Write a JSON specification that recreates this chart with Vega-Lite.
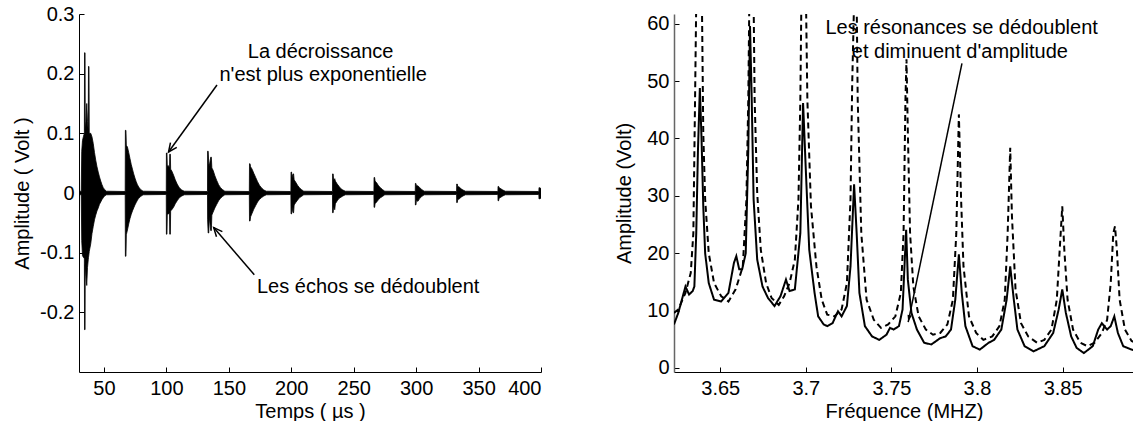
{
  "$schema": "https://vega.github.io/schema/vega-lite/v6.json",
  "background": "white",
  "padding": {"left": 12, "top": 4, "right": 0, "bottom": 0},
  "autosize": {"type": "pad"},
  "spacing": 72,
  "config": {
    "font": "Liberation Sans",
    "view": {"stroke": null},
    "axis": {"grid": false, "domainColor": "#000", "tickColor": "#000", "labelColor": "#000", "titleColor": "#000", "labelFontSize": 20, "titleFontSize": 20, "titleFontWeight": "normal", "labelFont": "Liberation Sans", "titleFont": "Liberation Sans", "tickSize": -5, "labelPadding": 10, "domainWidth": 1, "tickWidth": 1},
    "text": {"font": "Liberation Sans", "fontSize": 20, "color": "#000"}
  },
  "hconcat": [
    {
      "width": 462,
      "height": 358,
      "layer": [
        {
          "data": {"values": [
            {"t": 30.0, "hi": 0.0025, "lo": -0.0025}, {"t": 31.8, "hi": 0.003, "lo": -0.003}, {"t": 32.2, "hi": 0.07, "lo": -0.08}, {"t": 32.8, "hi": 0.088, "lo": -0.105}, {"t": 33.6, "hi": 0.095, "lo": -0.108}, {"t": 34.3, "hi": 0.1, "lo": -0.11}, {"t": 34.45, "hi": 0.235, "lo": -0.229}, {"t": 34.85, "hi": 0.235, "lo": -0.229}, {"t": 35.0, "hi": 0.105, "lo": -0.12}, {"t": 35.6, "hi": 0.12, "lo": -0.14}, {"t": 36.2, "hi": 0.15, "lo": -0.155}, {"t": 36.8, "hi": 0.12, "lo": -0.125}, {"t": 37.4, "hi": 0.105, "lo": -0.112}, {"t": 37.6, "hi": 0.212, "lo": -0.108}, {"t": 38.0, "hi": 0.212, "lo": -0.102}, {"t": 38.2, "hi": 0.1, "lo": -0.098}, {"t": 39.4, "hi": 0.1, "lo": -0.085}, {"t": 40.4, "hi": 0.094, "lo": -0.068}, {"t": 41.4, "hi": 0.083, "lo": -0.056}, {"t": 42.4, "hi": 0.068, "lo": -0.045}, {"t": 43.4, "hi": 0.055, "lo": -0.037}, {"t": 44.4, "hi": 0.044, "lo": -0.03}, {"t": 45.4, "hi": 0.035, "lo": -0.025}, {"t": 46.4, "hi": 0.027, "lo": -0.019}, {"t": 47.4, "hi": 0.02, "lo": -0.015}, {"t": 48.4, "hi": 0.014, "lo": -0.011}, {"t": 49.4, "hi": 0.009, "lo": -0.008}, {"t": 50.4, "hi": 0.006, "lo": -0.005}, {"t": 52.0, "hi": 0.003, "lo": -0.003}, {"t": 66.9, "hi": 0.0025, "lo": -0.0025},
            {"t": 67.0, "hi": 0.003, "lo": -0.003}, {"t": 67.15, "hi": 0.105, "lo": -0.106}, {"t": 67.6, "hi": 0.105, "lo": -0.106}, {"t": 67.9, "hi": 0.08, "lo": -0.07}, {"t": 68.8, "hi": 0.077, "lo": -0.062}, {"t": 69.8, "hi": 0.068, "lo": -0.052}, {"t": 70.8, "hi": 0.058, "lo": -0.043}, {"t": 71.8, "hi": 0.048, "lo": -0.036}, {"t": 72.8, "hi": 0.04, "lo": -0.03}, {"t": 73.8, "hi": 0.032, "lo": -0.025}, {"t": 74.8, "hi": 0.025, "lo": -0.02}, {"t": 75.8, "hi": 0.019, "lo": -0.016}, {"t": 76.8, "hi": 0.014, "lo": -0.012}, {"t": 77.8, "hi": 0.01, "lo": -0.009}, {"t": 79.3, "hi": 0.006, "lo": -0.006}, {"t": 81.3, "hi": 0.003, "lo": -0.003}, {"t": 99.6, "hi": 0.0025, "lo": -0.0025},
            {"t": 99.9, "hi": 0.003, "lo": -0.003}, {"t": 100.0, "hi": 0.067, "lo": -0.069}, {"t": 100.45, "hi": 0.067, "lo": -0.069}, {"t": 100.7, "hi": 0.045, "lo": -0.036}, {"t": 101.5, "hi": 0.046, "lo": -0.035}, {"t": 102.5, "hi": 0.042, "lo": -0.034}, {"t": 102.7, "hi": 0.065, "lo": -0.069}, {"t": 103.15, "hi": 0.065, "lo": -0.069}, {"t": 103.4, "hi": 0.04, "lo": -0.03}, {"t": 104.3, "hi": 0.037, "lo": -0.028}, {"t": 105.7, "hi": 0.03, "lo": -0.024}, {"t": 107.1, "hi": 0.022, "lo": -0.018}, {"t": 108.6, "hi": 0.015, "lo": -0.013}, {"t": 110.3, "hi": 0.009, "lo": -0.008}, {"t": 112.3, "hi": 0.005, "lo": -0.005}, {"t": 114.3, "hi": 0.003, "lo": -0.003}, {"t": 132.6, "hi": 0.0025, "lo": -0.0025},
            {"t": 132.9, "hi": 0.003, "lo": -0.003}, {"t": 133.0, "hi": 0.07, "lo": -0.045}, {"t": 133.45, "hi": 0.07, "lo": -0.067}, {"t": 133.9, "hi": 0.05, "lo": -0.067}, {"t": 134.3, "hi": 0.045, "lo": -0.04}, {"t": 135.5, "hi": 0.06, "lo": -0.063}, {"t": 136.0, "hi": 0.06, "lo": -0.063}, {"t": 136.4, "hi": 0.042, "lo": -0.037}, {"t": 137.4, "hi": 0.038, "lo": -0.032}, {"t": 138.8, "hi": 0.029, "lo": -0.025}, {"t": 140.3, "hi": 0.021, "lo": -0.019}, {"t": 141.8, "hi": 0.014, "lo": -0.013}, {"t": 143.3, "hi": 0.009, "lo": -0.009}, {"t": 144.8, "hi": 0.006, "lo": -0.006}, {"t": 146.8, "hi": 0.003, "lo": -0.003}, {"t": 166.1, "hi": 0.0025, "lo": -0.0025},
            {"t": 166.4, "hi": 0.003, "lo": -0.003}, {"t": 166.55, "hi": 0.049, "lo": -0.047}, {"t": 167.0, "hi": 0.049, "lo": -0.047}, {"t": 167.4, "hi": 0.044, "lo": -0.04}, {"t": 168.6, "hi": 0.04, "lo": -0.034}, {"t": 170.0, "hi": 0.033, "lo": -0.027}, {"t": 171.5, "hi": 0.026, "lo": -0.021}, {"t": 173.0, "hi": 0.019, "lo": -0.015}, {"t": 174.5, "hi": 0.013, "lo": -0.011}, {"t": 176.0, "hi": 0.009, "lo": -0.008}, {"t": 178.0, "hi": 0.005, "lo": -0.005}, {"t": 180.0, "hi": 0.003, "lo": -0.003}, {"t": 199.4, "hi": 0.0025, "lo": -0.0025},
            {"t": 199.7, "hi": 0.003, "lo": -0.003}, {"t": 199.8, "hi": 0.035, "lo": -0.035}, {"t": 200.25, "hi": 0.035, "lo": -0.035}, {"t": 200.6, "hi": 0.026, "lo": -0.024}, {"t": 201.4, "hi": 0.032, "lo": -0.033}, {"t": 201.85, "hi": 0.032, "lo": -0.033}, {"t": 202.3, "hi": 0.022, "lo": -0.02}, {"t": 203.6, "hi": 0.018, "lo": -0.016}, {"t": 205.0, "hi": 0.013, "lo": -0.012}, {"t": 206.5, "hi": 0.009, "lo": -0.008}, {"t": 208.0, "hi": 0.006, "lo": -0.006}, {"t": 210.0, "hi": 0.003, "lo": -0.003}, {"t": 232.8, "hi": 0.0025, "lo": -0.0025},
            {"t": 233.0, "hi": 0.003, "lo": -0.003}, {"t": 233.1, "hi": 0.032, "lo": -0.033}, {"t": 233.55, "hi": 0.032, "lo": -0.033}, {"t": 233.9, "hi": 0.022, "lo": -0.022}, {"t": 234.8, "hi": 0.024, "lo": -0.028}, {"t": 235.3, "hi": 0.02, "lo": -0.018}, {"t": 236.8, "hi": 0.015, "lo": -0.013}, {"t": 238.3, "hi": 0.011, "lo": -0.009}, {"t": 239.8, "hi": 0.007, "lo": -0.007}, {"t": 241.3, "hi": 0.005, "lo": -0.005}, {"t": 243.3, "hi": 0.003, "lo": -0.003}, {"t": 266.0, "hi": 0.0025, "lo": -0.0025},
            {"t": 266.2, "hi": 0.003, "lo": -0.003}, {"t": 266.3, "hi": 0.026, "lo": -0.024}, {"t": 266.75, "hi": 0.026, "lo": -0.024}, {"t": 267.1, "hi": 0.02, "lo": -0.018}, {"t": 268.4, "hi": 0.017, "lo": -0.015}, {"t": 269.9, "hi": 0.012, "lo": -0.011}, {"t": 271.4, "hi": 0.009, "lo": -0.008}, {"t": 272.9, "hi": 0.006, "lo": -0.006}, {"t": 274.9, "hi": 0.003, "lo": -0.003}, {"t": 299.1, "hi": 0.0025, "lo": -0.0025},
            {"t": 299.3, "hi": 0.003, "lo": -0.003}, {"t": 299.4, "hi": 0.016, "lo": -0.02}, {"t": 299.85, "hi": 0.016, "lo": -0.02}, {"t": 300.2, "hi": 0.012, "lo": -0.012}, {"t": 301.4, "hi": 0.012, "lo": -0.014}, {"t": 302.9, "hi": 0.009, "lo": -0.009}, {"t": 304.4, "hi": 0.006, "lo": -0.006}, {"t": 306.4, "hi": 0.003, "lo": -0.003}, {"t": 332.3, "hi": 0.0025, "lo": -0.0025},
            {"t": 332.4, "hi": 0.003, "lo": -0.003}, {"t": 332.5, "hi": 0.015, "lo": -0.016}, {"t": 332.95, "hi": 0.015, "lo": -0.016}, {"t": 333.3, "hi": 0.011, "lo": -0.011}, {"t": 334.5, "hi": 0.01, "lo": -0.01}, {"t": 336.0, "hi": 0.007, "lo": -0.007}, {"t": 337.5, "hi": 0.005, "lo": -0.005}, {"t": 339.5, "hi": 0.003, "lo": -0.003}, {"t": 365.4, "hi": 0.0025, "lo": -0.0025},
            {"t": 365.5, "hi": 0.003, "lo": -0.003}, {"t": 365.6, "hi": 0.011, "lo": -0.013}, {"t": 366.05, "hi": 0.011, "lo": -0.013}, {"t": 366.4, "hi": 0.009, "lo": -0.009}, {"t": 367.9, "hi": 0.007, "lo": -0.007}, {"t": 369.4, "hi": 0.005, "lo": -0.005}, {"t": 371.4, "hi": 0.003, "lo": -0.003}, {"t": 398.0, "hi": 0.0025, "lo": -0.0025},
            {"t": 398.3, "hi": 0.003, "lo": -0.003}, {"t": 398.4, "hi": 0.009, "lo": -0.01}, {"t": 398.85, "hi": 0.009, "lo": -0.01}, {"t": 399.3, "hi": 0.008, "lo": -0.009}, {"t": 400.0, "hi": 0.008, "lo": -0.009}
          ]},
          "mark": {"type": "area", "color": "#000", "stroke": "#000", "strokeWidth": 0.8, "opacity": 1, "clip": true, "interpolate": "linear"},
          "encoding": {
            "x": {"field": "t", "type": "quantitative", "scale": {"domain": [30, 400], "nice": false, "zero": false}, "axis": {"title": "Temps ( µs )", "values": [50, 100, 150, 200, 250, 300, 350, 400], "labelPadding": 11, "titlePadding": 3}},
            "y": {"field": "hi", "type": "quantitative", "scale": {"domain": [-0.3, 0.3], "nice": false}, "axis": {"title": "Amplitude ( Volt )", "values": [-0.2, -0.1, 0, 0.1, 0.2, 0.3], "labelExpr": "replace(format(datum.value, '.1~f'), '−', '-')", "titlePadding": 7}},
            "y2": {"field": "lo"}
          }
        },
        {
          "data": {"values": [
            {"t": 140.5, "hi": 0.181, "t2": 101.7, "lo": 0.0687},
            {"t": 170.4, "hi": -0.137, "t2": 137.9, "lo": -0.058}
          ]},
          "mark": {"type": "rule", "color": "#000", "strokeWidth": 1.5},
          "encoding": {
            "x": {"field": "t", "type": "quantitative"},
            "y": {"field": "hi", "type": "quantitative"},
            "x2": {"field": "t2"},
            "y2": {"field": "lo"}
          }
        },
        {
          "data": {"values": [{"t": 101.7, "hi": 0.0687}]},
          "mark": {"type": "point", "shape": "M-0.45,1L0,0L0.45,1", "filled": false, "stroke": "#000", "strokeWidth": 1.5, "size": 300, "angle": 216, "opacity": 1},
          "encoding": {"x": {"field": "t", "type": "quantitative"}, "y": {"field": "hi", "type": "quantitative"}}
        },
        {
          "data": {"values": [{"t": 137.9, "hi": -0.058}]},
          "mark": {"type": "point", "shape": "M-0.45,1L0,0L0.45,1", "filled": false, "stroke": "#000", "strokeWidth": 1.5, "size": 300, "angle": 319, "opacity": 1},
          "encoding": {"x": {"field": "t", "type": "quantitative"}, "y": {"field": "hi", "type": "quantitative"}}
        },
        {
          "data": {"values": [
            {"t": 223.5, "hi": 0.2368, "label": "La décroissance"},
            {"t": 225.5, "hi": 0.1977, "label": "n'est plus exponentielle"},
            {"t": 261.6, "hi": -0.157, "label": "Les échos se dédoublent"}
          ]},
          "mark": {"type": "text", "align": "center", "baseline": "middle", "fontSize": 20},
          "encoding": {"x": {"field": "t", "type": "quantitative"}, "y": {"field": "hi", "type": "quantitative"}, "text": {"field": "label"}}
        }
      ]
    },
    {
      "width": 460,
      "height": 358,
      "layer": [
        {
          "data": {"values": [
            {"f": 3.623, "a": 7.6, "s": "mesure"}, {"f": 3.6255, "a": 9.6, "s": "mesure"}, {"f": 3.6297, "a": 14.2, "s": "mesure"}, {"f": 3.6318, "a": 12.8, "s": "mesure"}, {"f": 3.6339, "a": 13.4, "s": "mesure"}, {"f": 3.6349, "a": 14.2, "s": "mesure"}, {"f": 3.636, "a": 23.5, "s": "mesure"}, {"f": 3.637, "a": 38, "s": "mesure"}, {"f": 3.6381, "a": 48.8, "s": "mesure"}, {"f": 3.6391, "a": 39.8, "s": "mesure"}, {"f": 3.6401, "a": 28.2, "s": "mesure"}, {"f": 3.6412, "a": 20, "s": "mesure"}, {"f": 3.6433, "a": 14.8, "s": "mesure"}, {"f": 3.6464, "a": 11.9, "s": "mesure"}, {"f": 3.6506, "a": 11.6, "s": "mesure"}, {"f": 3.6548, "a": 13.1, "s": "mesure"}, {"f": 3.658, "a": 18.3, "s": "mesure"}, {"f": 3.6594, "a": 19.5, "s": "mesure"}, {"f": 3.6611, "a": 17.2, "s": "mesure"}, {"f": 3.6628, "a": 17.2, "s": "mesure"}, {"f": 3.6649, "a": 20, "s": "mesure"}, {"f": 3.6664, "a": 38, "s": "mesure"}, {"f": 3.6674, "a": 59.6, "s": "mesure"}, {"f": 3.6684, "a": 46.8, "s": "mesure"}, {"f": 3.6695, "a": 29.4, "s": "mesure"}, {"f": 3.6716, "a": 18.9, "s": "mesure"}, {"f": 3.6747, "a": 14.2, "s": "mesure"}, {"f": 3.6779, "a": 12.2, "s": "mesure"}, {"f": 3.6817, "a": 10.8, "s": "mesure"}, {"f": 3.6852, "a": 12.5, "s": "mesure"}, {"f": 3.6884, "a": 15.4, "s": "mesure"}, {"f": 3.6905, "a": 13.4, "s": "mesure"}, {"f": 3.6936, "a": 13.7, "s": "mesure"}, {"f": 3.6968, "a": 23.5, "s": "mesure"}, {"f": 3.6984, "a": 46.2, "s": "mesure"}, {"f": 3.6999, "a": 35.2, "s": "mesure"}, {"f": 3.702, "a": 20.6, "s": "mesure"}, {"f": 3.7051, "a": 13.1, "s": "mesure"}, {"f": 3.7072, "a": 9, "s": "mesure"}, {"f": 3.7104, "a": 7.6, "s": "mesure"}, {"f": 3.7125, "a": 7.3, "s": "mesure"}, {"f": 3.7156, "a": 7.8, "s": "mesure"}, {"f": 3.7188, "a": 9.9, "s": "mesure"}, {"f": 3.7209, "a": 9, "s": "mesure"}, {"f": 3.724, "a": 10.8, "s": "mesure"}, {"f": 3.7261, "a": 17.7, "s": "mesure"}, {"f": 3.7282, "a": 32, "s": "mesure"}, {"f": 3.7297, "a": 23.5, "s": "mesure"}, {"f": 3.7313, "a": 13.1, "s": "mesure"}, {"f": 3.7345, "a": 7.3, "s": "mesure"}, {"f": 3.7387, "a": 5.5, "s": "mesure"}, {"f": 3.7429, "a": 4.9, "s": "mesure"}, {"f": 3.7471, "a": 5.8, "s": "mesure"}, {"f": 3.7492, "a": 7, "s": "mesure"}, {"f": 3.7513, "a": 6.7, "s": "mesure"}, {"f": 3.7544, "a": 7.3, "s": "mesure"}, {"f": 3.7565, "a": 10.2, "s": "mesure"}, {"f": 3.7586, "a": 24.1, "s": "mesure"}, {"f": 3.7596, "a": 15.4, "s": "mesure"}, {"f": 3.7617, "a": 9.6, "s": "mesure"}, {"f": 3.7649, "a": 6.7, "s": "mesure"}, {"f": 3.7691, "a": 4.4, "s": "mesure"}, {"f": 3.7733, "a": 4.1, "s": "mesure"}, {"f": 3.7785, "a": 5.2, "s": "mesure"}, {"f": 3.7817, "a": 5.5, "s": "mesure"}, {"f": 3.7848, "a": 6.7, "s": "mesure"}, {"f": 3.7873, "a": 11.9, "s": "mesure"}, {"f": 3.7894, "a": 19.8, "s": "mesure"}, {"f": 3.7911, "a": 13.1, "s": "mesure"}, {"f": 3.7932, "a": 7.3, "s": "mesure"}, {"f": 3.7974, "a": 3.8, "s": "mesure"}, {"f": 3.8016, "a": 3.2, "s": "mesure"}, {"f": 3.8068, "a": 4.4, "s": "mesure"}, {"f": 3.81, "a": 4.9, "s": "mesure"}, {"f": 3.8142, "a": 6.7, "s": "mesure"}, {"f": 3.8173, "a": 11.9, "s": "mesure"}, {"f": 3.8194, "a": 17.7, "s": "mesure"}, {"f": 3.8215, "a": 11.9, "s": "mesure"}, {"f": 3.8236, "a": 6.7, "s": "mesure"}, {"f": 3.8278, "a": 3.8, "s": "mesure"}, {"f": 3.833, "a": 2.9, "s": "mesure"}, {"f": 3.8393, "a": 3.8, "s": "mesure"}, {"f": 3.8445, "a": 6.1, "s": "mesure"}, {"f": 3.8477, "a": 10.2, "s": "mesure"}, {"f": 3.8498, "a": 13.7, "s": "mesure"}, {"f": 3.8519, "a": 9.6, "s": "mesure"}, {"f": 3.855, "a": 5.5, "s": "mesure"}, {"f": 3.8582, "a": 3.5, "s": "mesure"}, {"f": 3.8624, "a": 2.6, "s": "mesure"}, {"f": 3.8676, "a": 3.8, "s": "mesure"}, {"f": 3.8708, "a": 6.7, "s": "mesure"}, {"f": 3.8729, "a": 7.8, "s": "mesure"}, {"f": 3.876, "a": 6.7, "s": "mesure"}, {"f": 3.8781, "a": 7.3, "s": "mesure"}, {"f": 3.8802, "a": 9, "s": "mesure"}, {"f": 3.8823, "a": 6.1, "s": "mesure"}, {"f": 3.8854, "a": 3.8, "s": "mesure"}, {"f": 3.8903, "a": 3.2, "s": "mesure"}, {"f": 3.8917, "a": 3.1, "s": "mesure"},
            {"f": 3.623, "a": 9.6, "s": "modele"}, {"f": 3.6255, "a": 10.2, "s": "modele"}, {"f": 3.6297, "a": 13.1, "s": "modele"}, {"f": 3.6328, "a": 16.6, "s": "modele"}, {"f": 3.6343, "a": 23.5, "s": "modele"}, {"f": 3.6353, "a": 46.8, "s": "modele"}, {"f": 3.636, "a": 64, "s": "modele"}, {"f": 3.6374, "a": 90, "s": "modele"}, {"f": 3.6393, "a": 64, "s": "modele"}, {"f": 3.6401, "a": 41, "s": "modele"}, {"f": 3.6412, "a": 29.4, "s": "modele"}, {"f": 3.6433, "a": 20, "s": "modele"}, {"f": 3.6464, "a": 14.8, "s": "modele"}, {"f": 3.6506, "a": 12.5, "s": "modele"}, {"f": 3.6548, "a": 11.6, "s": "modele"}, {"f": 3.659, "a": 13.7, "s": "modele"}, {"f": 3.6632, "a": 17.7, "s": "modele"}, {"f": 3.6653, "a": 29.4, "s": "modele"}, {"f": 3.6664, "a": 46.8, "s": "modele"}, {"f": 3.667, "a": 64, "s": "modele"}, {"f": 3.668, "a": 90, "s": "modele"}, {"f": 3.6695, "a": 64, "s": "modele"}, {"f": 3.6701, "a": 46.8, "s": "modele"}, {"f": 3.6716, "a": 30.5, "s": "modele"}, {"f": 3.6737, "a": 20.6, "s": "modele"}, {"f": 3.6768, "a": 14.8, "s": "modele"}, {"f": 3.68, "a": 12.2, "s": "modele"}, {"f": 3.6842, "a": 11, "s": "modele"}, {"f": 3.6873, "a": 12.5, "s": "modele"}, {"f": 3.6905, "a": 14.8, "s": "modele"}, {"f": 3.6936, "a": 18.9, "s": "modele"}, {"f": 3.6957, "a": 29.4, "s": "modele"}, {"f": 3.6968, "a": 46.8, "s": "modele"}, {"f": 3.6974, "a": 64, "s": "modele"}, {"f": 3.6988, "a": 90, "s": "modele"}, {"f": 3.7001, "a": 64, "s": "modele"}, {"f": 3.7009, "a": 46.8, "s": "modele"}, {"f": 3.703, "a": 28.2, "s": "modele"}, {"f": 3.7062, "a": 17.7, "s": "modele"}, {"f": 3.7093, "a": 11.9, "s": "modele"}, {"f": 3.7125, "a": 9.3, "s": "modele"}, {"f": 3.7167, "a": 9, "s": "modele"}, {"f": 3.7209, "a": 10.2, "s": "modele"}, {"f": 3.724, "a": 14.8, "s": "modele"}, {"f": 3.7261, "a": 29.4, "s": "modele"}, {"f": 3.7271, "a": 49.7, "s": "modele"}, {"f": 3.7282, "a": 64, "s": "modele"}, {"f": 3.7288, "a": 80, "s": "modele"}, {"f": 3.7297, "a": 64, "s": "modele"}, {"f": 3.7303, "a": 46.8, "s": "modele"}, {"f": 3.7324, "a": 23.5, "s": "modele"}, {"f": 3.7355, "a": 11.9, "s": "modele"}, {"f": 3.7397, "a": 8.4, "s": "modele"}, {"f": 3.7439, "a": 7, "s": "modele"}, {"f": 3.7481, "a": 7.6, "s": "modele"}, {"f": 3.7523, "a": 9, "s": "modele"}, {"f": 3.7555, "a": 13.1, "s": "modele"}, {"f": 3.7571, "a": 23.5, "s": "modele"}, {"f": 3.7582, "a": 46.8, "s": "modele"}, {"f": 3.7588, "a": 53.8, "s": "modele"}, {"f": 3.7596, "a": 41, "s": "modele"}, {"f": 3.7609, "a": 23.5, "s": "modele"}, {"f": 3.7628, "a": 14.2, "s": "modele"}, {"f": 3.7659, "a": 9, "s": "modele"}, {"f": 3.7701, "a": 6.7, "s": "modele"}, {"f": 3.7743, "a": 5.8, "s": "modele"}, {"f": 3.7785, "a": 6.1, "s": "modele"}, {"f": 3.7827, "a": 7.6, "s": "modele"}, {"f": 3.7859, "a": 11.9, "s": "modele"}, {"f": 3.7879, "a": 23.5, "s": "modele"}, {"f": 3.7894, "a": 44.2, "s": "modele"}, {"f": 3.7907, "a": 29.4, "s": "modele"}, {"f": 3.7921, "a": 17.7, "s": "modele"}, {"f": 3.7953, "a": 9, "s": "modele"}, {"f": 3.7995, "a": 6.1, "s": "modele"}, {"f": 3.8037, "a": 4.9, "s": "modele"}, {"f": 3.8089, "a": 5.5, "s": "modele"}, {"f": 3.8131, "a": 7.3, "s": "modele"}, {"f": 3.8162, "a": 11.9, "s": "modele"}, {"f": 3.8179, "a": 23.5, "s": "modele"}, {"f": 3.8194, "a": 38.4, "s": "modele"}, {"f": 3.8204, "a": 26.5, "s": "modele"}, {"f": 3.8225, "a": 13.7, "s": "modele"}, {"f": 3.8257, "a": 7.8, "s": "modele"}, {"f": 3.8299, "a": 5.5, "s": "modele"}, {"f": 3.8351, "a": 4.4, "s": "modele"}, {"f": 3.8393, "a": 4.9, "s": "modele"}, {"f": 3.8435, "a": 6.7, "s": "modele"}, {"f": 3.8466, "a": 11.9, "s": "modele"}, {"f": 3.8483, "a": 20.6, "s": "modele"}, {"f": 3.8498, "a": 28.2, "s": "modele"}, {"f": 3.851, "a": 20.6, "s": "modele"}, {"f": 3.8529, "a": 11.9, "s": "modele"}, {"f": 3.8561, "a": 6.7, "s": "modele"}, {"f": 3.8603, "a": 4.4, "s": "modele"}, {"f": 3.8645, "a": 3.8, "s": "modele"}, {"f": 3.8687, "a": 4.4, "s": "modele"}, {"f": 3.8729, "a": 6.1, "s": "modele"}, {"f": 3.876, "a": 8.4, "s": "modele"}, {"f": 3.8781, "a": 14.8, "s": "modele"}, {"f": 3.8796, "a": 23.5, "s": "modele"}, {"f": 3.8806, "a": 24.7, "s": "modele"}, {"f": 3.8817, "a": 20.6, "s": "modele"}, {"f": 3.8833, "a": 11.9, "s": "modele"}, {"f": 3.8864, "a": 6.7, "s": "modele"}, {"f": 3.8903, "a": 4.7, "s": "modele"}, {"f": 3.8917, "a": 4.5, "s": "modele"}
          ]},
          "mark": {"type": "line", "clip": true, "strokeWidth": 2, "color": "#000"},
          "encoding": {
            "x": {"field": "f", "type": "quantitative", "scale": {"domain": [3.623, 3.8917], "nice": false, "zero": false}, "axis": {"title": "Fréquence (MHZ)", "values": [3.65, 3.7, 3.75, 3.8, 3.85], "format": ".3~f", "labelPadding": 11, "titlePadding": 3}},
            "y": {"field": "a", "type": "quantitative", "scale": {"domain": [-0.7, 61.7], "nice": false}, "axis": {"title": "Amplitude (Volt)", "values": [0, 10, 20, 30, 40, 50, 60], "titlePadding": 12, "domainColor": "#666", "domainWidth": 1.5}},
            "strokeDash": {"field": "s", "type": "nominal", "scale": {"domain": ["mesure", "modele"], "range": [[1, 0], [6, 4]]}, "legend": null}
          }
        },
        {
          "data": {"values": [{"f": 3.7912, "a": 53.1, "f2": 3.7598, "a2": 8.0}]},
          "mark": {"type": "rule", "color": "#000", "strokeWidth": 1.5},
          "encoding": {"x": {"field": "f", "type": "quantitative"}, "y": {"field": "a", "type": "quantitative"}, "x2": {"field": "f2"}, "y2": {"field": "a2"}}
        },
        {
          "data": {"values": [{"f": 3.7598, "a": 8.0}]},
          "mark": {"type": "point", "shape": "M0,0L-0.4,1.3L0.4,1.3Z", "filled": true, "color": "#000", "size": 120, "angle": 192, "opacity": 1},
          "encoding": {"x": {"field": "f", "type": "quantitative"}, "y": {"field": "a", "type": "quantitative"}}
        },
        {
          "data": {"values": [
            {"f": 3.791, "a": 59.2, "label": "Les résonances se dédoublent"},
            {"f": 3.790, "a": 55.1, "label": "et diminuent d'amplitude"}
          ]},
          "mark": {"type": "text", "align": "center", "baseline": "middle", "fontSize": 20},
          "encoding": {"x": {"field": "f", "type": "quantitative"}, "y": {"field": "a", "type": "quantitative"}, "text": {"field": "label"}}
        }
      ]
    }
  ]
}
